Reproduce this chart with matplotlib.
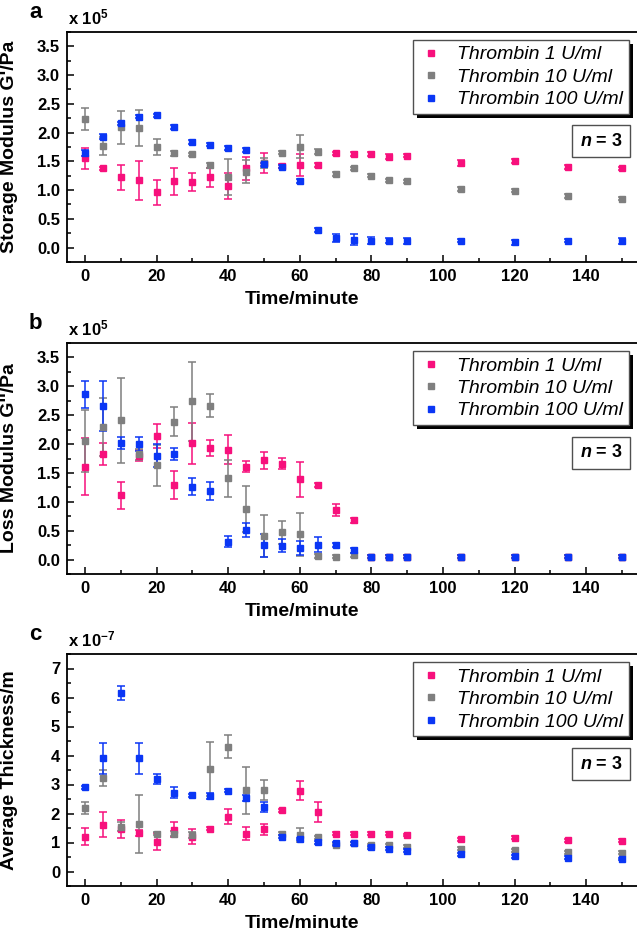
import matplotlib
matplotlib.use("Agg")
import matplotlib.pyplot as plt
from matplotlib.ticker import MultipleLocator
from matplotlib.lines import Line2D
from matplotlib.patches import Rectangle

plt.rcParams['font.family'] = ['Liberation Sans', 'DejaVu Sans']
plt.rcParams['mathtext.fontset'] = 'custom'
plt.rcParams['mathtext.rm'] = 'Liberation Sans:bold'
plt.rcParams['mathtext.it'] = 'Liberation Sans:italic:bold'
plt.rcParams['mathtext.bf'] = 'Liberation Sans:bold'

# ---------------- data ----------------
time = [0, 5, 10, 15, 20, 25, 30, 35, 40, 45, 50, 55, 60, 65, 70, 75, 80, 85, 90, 105, 120, 135, 150]
series_names = ["Thrombin 1 U/ml", "Thrombin 10 U/ml", "Thrombin 100 U/ml"]

# Storage modulus G' (x 1e5 Pa)
storage_1 = [1.55, 1.38, 1.22, 1.17, 0.96, 1.15, 1.14, 1.22, 1.07, 1.38, 1.47, 1.42, 1.43, 1.44, 1.64, 1.63, 1.63, 1.58, 1.60, 1.47, 1.51, 1.40, 1.38]
storage_1_err = [0.19, 0.03, 0.22, 0.34, 0.22, 0.24, 0.15, 0.16, 0.22, 0.20, 0.17, 0.03, 0.19, 0.03, 0.03, 0.04, 0.03, 0.04, 0.03, 0.05, 0.03, 0.03, 0.03]
storage_10 = [2.24, 1.77, 2.09, 2.08, 1.75, 1.64, 1.62, 1.43, 1.23, 1.32, 1.47, 1.65, 1.75, 1.67, 1.28, 1.38, 1.25, 1.17, 1.15, 1.02, 0.99, 0.90, 0.85]
storage_10_err = [0.19, 0.16, 0.29, 0.32, 0.14, 0.04, 0.03, 0.04, 0.31, 0.20, 0.08, 0.03, 0.20, 0.04, 0.03, 0.03, 0.03, 0.03, 0.03, 0.03, 0.03, 0.03, 0.03]
storage_100 = [1.64, 1.93, 2.16, 2.28, 2.30, 2.10, 1.84, 1.79, 1.73, 1.70, 1.45, 1.41, 1.16, 0.31, 0.17, 0.14, 0.12, 0.12, 0.12, 0.12, 0.09, 0.12, 0.11]
storage_100_err = [0.05, 0.04, 0.03, 0.03, 0.03, 0.03, 0.03, 0.03, 0.03, 0.03, 0.03, 0.03, 0.03, 0.03, 0.07, 0.10, 0.06, 0.04, 0.05, 0.03, 0.04, 0.03, 0.05]

# Loss modulus G'' (x 1e5 Pa)
loss_1 = [1.61, 1.83, 1.11, 1.80, 2.14, 1.29, 2.01, 1.93, 1.90, 1.61, 1.72, 1.66, 1.39, 1.29, 0.86, 0.68, 0.05, 0.05, 0.05, 0.05, 0.05, 0.05, 0.05]
loss_1_err = [0.50, 0.19, 0.23, 0.10, 0.21, 0.24, 0.36, 0.14, 0.25, 0.10, 0.15, 0.10, 0.30, 0.03, 0.11, 0.04, 0.03, 0.03, 0.03, 0.03, 0.03, 0.03, 0.03]
loss_10 = [2.05, 2.30, 2.41, 1.82, 1.63, 2.39, 2.74, 2.66, 1.41, 0.88, 0.41, 0.47, 0.44, 0.06, 0.05, 0.08, 0.05, 0.05, 0.05, 0.05, 0.05, 0.05, 0.05]
loss_10_err = [0.54, 0.50, 0.73, 0.10, 0.35, 0.25, 0.68, 0.20, 0.32, 0.40, 0.36, 0.20, 0.37, 0.03, 0.03, 0.03, 0.03, 0.03, 0.03, 0.03, 0.03, 0.03, 0.03]
loss_100 = [2.86, 2.66, 2.02, 2.00, 1.80, 1.83, 1.26, 1.19, 0.31, 0.51, 0.25, 0.24, 0.20, 0.26, 0.25, 0.16, 0.05, 0.05, 0.05, 0.05, 0.05, 0.05, 0.05]
loss_100_err = [0.24, 0.44, 0.11, 0.12, 0.20, 0.10, 0.15, 0.15, 0.10, 0.12, 0.20, 0.11, 0.12, 0.13, 0.04, 0.04, 0.03, 0.03, 0.03, 0.03, 0.03, 0.03, 0.03]

# Average thickness (x 1e-7 m)
thick_1 = [1.20, 1.62, 1.47, 1.33, 1.03, 1.44, 1.20, 1.47, 1.89, 1.30, 1.45, 2.11, 2.79, 2.05, 1.30, 1.30, 1.30, 1.30, 1.26, 1.11, 1.17, 1.08, 1.06]
thick_1_err = [0.30, 0.43, 0.30, 0.10, 0.30, 0.25, 0.26, 0.05, 0.26, 0.23, 0.20, 0.05, 0.34, 0.35, 0.05, 0.05, 0.05, 0.05, 0.05, 0.05, 0.05, 0.05, 0.05]
thick_10 = [2.19, 3.23, 1.55, 1.64, 1.30, 1.30, 1.26, 3.53, 4.31, 2.80, 2.82, 1.30, 1.26, 1.18, 0.93, 0.97, 0.91, 0.90, 0.86, 0.79, 0.73, 0.67, 0.65]
thick_10_err = [0.22, 0.27, 0.15, 1.00, 0.05, 0.08, 0.10, 0.94, 0.40, 0.80, 0.35, 0.05, 0.25, 0.05, 0.05, 0.05, 0.05, 0.05, 0.05, 0.05, 0.05, 0.05, 0.05]
thick_100 = [2.91, 3.90, 6.15, 3.90, 3.19, 2.72, 2.63, 2.60, 2.78, 2.53, 2.22, 1.20, 1.12, 1.01, 0.97, 0.97, 0.83, 0.78, 0.72, 0.60, 0.53, 0.47, 0.43]
thick_100_err = [0.05, 0.54, 0.25, 0.54, 0.17, 0.18, 0.05, 0.10, 0.05, 0.10, 0.18, 0.05, 0.05, 0.05, 0.05, 0.05, 0.05, 0.05, 0.05, 0.05, 0.05, 0.05, 0.05]

colors = ['#F7107C', '#7F7F7F', '#0A36F5']

panels = [
    dict(letter='a', ylabel="Storage Modulus G'/Pa", mult=r'x 10$^{\mathrm{5}}$',
         series=[(storage_1, storage_1_err), (storage_10, storage_10_err), (storage_100, storage_100_err)],
         ylim=(-0.25, 3.75), major=0.5, minor=0.25, fmt='{:.1f}', top=32, bottom=262),
    dict(letter='b', ylabel="Loss Modulus G''/Pa", mult=r'x 10$^{\mathrm{5}}$',
         series=[(loss_1, loss_1_err), (loss_10, loss_10_err), (loss_100, loss_100_err)],
         ylim=(-0.25, 3.75), major=0.5, minor=0.25, fmt='{:.1f}', top=343, bottom=574),
    dict(letter='c', ylabel="Average Thickness/m", mult=r'x 10$^{\mathrm{-7}}$',
         series=[(thick_1, thick_1_err), (thick_10, thick_10_err), (thick_100, thick_100_err)],
         ylim=(-0.5, 7.5), major=1, minor=0.5, fmt='{:.0f}', top=654, bottom=886),
]

W, H = 637, 933
fig = plt.figure(figsize=(W / 100, H / 100), dpi=100)

xt = [0, 20, 40, 60, 80, 100, 120, 140]
legs = []
for p in panels:
    ax = fig.add_axes([67 / W, 1 - p['bottom'] / H, 573 / W, (p['bottom'] - p['top']) / H])
    for (vals, errs), c in zip(p['series'], colors):
        ax.errorbar(time, vals, yerr=errs, fmt='s', color=c, ecolor=c, markersize=4.3,
                    elinewidth=1.1, capsize=2.6, capthick=1.1, linestyle='none')
    ax.set_xlim(-5, 155)
    ax.set_ylim(*p['ylim'])
    ax.xaxis.set_minor_locator(MultipleLocator(10))
    ax.yaxis.set_minor_locator(MultipleLocator(p['minor']))
    ax.set_xticks(xt)
    ax.set_xticklabels([str(v) for v in xt])
    n_major = int(round((p['ylim'][1] - 0.25) / p['major']))
    yt = [i * p['major'] for i in range(n_major + 1) if i * p['major'] < p['ylim'][1]]
    ax.set_yticks(yt)
    ax.set_yticklabels([p['fmt'].format(v) for v in yt])
    ax.tick_params(which='both', direction='in', top=False, right=False, width=1.1)
    ax.tick_params(which='major', length=5, labelsize=12, pad=5)
    ax.tick_params(which='minor', length=3)
    for lbl in ax.get_xticklabels() + ax.get_yticklabels():
        lbl.set_fontweight('bold')
    for s in ['left', 'bottom', 'top']:
        ax.spines[s].set_linewidth(1.3)
    ax.spines['right'].set_visible(False)
    ax.set_ylabel(p['ylabel'], fontsize=14, fontweight='bold')
    ax.yaxis.set_label_coords(-0.085, 0.5)
    ax.set_xlabel('Time/minute', fontsize=14, fontweight='bold')
    ax.xaxis.set_label_coords(0.41, -0.125)
    ax.text(-0.055, 1.04, p['letter'], transform=ax.transAxes, fontsize=16, fontweight='bold',
            ha='center', va='bottom')
    ax.text(0.002, 1.02, p['mult'], transform=ax.transAxes, fontsize=12, fontweight='bold',
            ha='left', va='bottom')
    handles = [Line2D([], [], marker='s', linestyle='none', color=c, markersize=4) for c in colors]
    leg = ax.legend(handles, series_names, loc='upper right', bbox_to_anchor=(0.98, 0.965),
                    borderaxespad=0, fancybox=False, framealpha=1, edgecolor='#505050',
                    prop=dict(size=14, style='italic'),
                    handlelength=1.3, handletextpad=0.65, labelspacing=0.25, borderpad=0.3)
    leg.get_frame().set_linewidth(1.0)
    legs.append((ax, leg))
    ax.text(0.932, 0.525, r'$n$ = 3', transform=ax.transAxes, fontsize=13, fontweight='bold',
            ha='center', va='center',
            bbox=dict(boxstyle='square,pad=0.42', fc='white', ec='#505050', lw=1.0))

fig.canvas.draw()
renderer = fig.canvas.get_renderer()
for ax, leg in legs:
    bb = leg.get_frame().get_window_extent(renderer)
    inv = ax.transAxes.inverted()
    (x0, y0), (x1, y1) = inv.transform([[bb.x0 + 4, bb.y0 - 4], [bb.x1 + 4, bb.y1 - 4]])
    sh = Rectangle((x0, y0), x1 - x0, y1 - y0, transform=ax.transAxes, facecolor='black',
                   edgecolor='none', zorder=4.5, clip_on=False)
    ax.add_artist(sh)

fig.savefig('out.png', dpi=100)
